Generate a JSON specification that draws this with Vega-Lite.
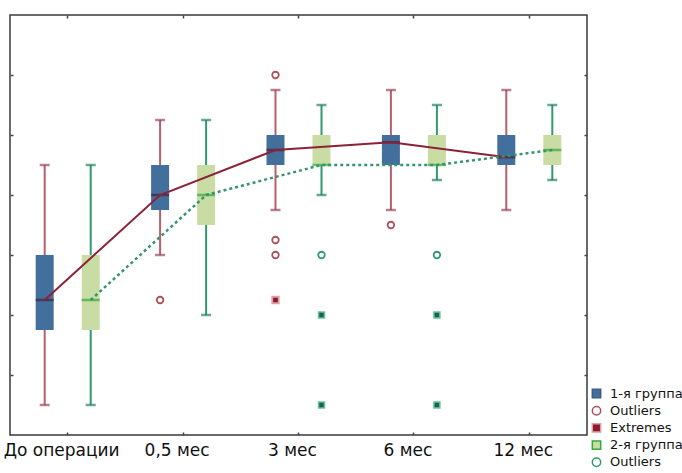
{
  "$schema": "https://vega.github.io/schema/vega-lite/v6.json",
  "description": "Box plots by group over time",
  "autosize": {"type": "none"},
  "padding": {"left": 10, "top": 15, "right": 95, "bottom": 38},
  "width": 577,
  "height": 420,
  "background": "white",
  "config": {
    "view": {"stroke": "#3a3a3a", "strokeWidth": 1.5},
    "font": "DejaVu Sans",
    "axis": {"domain": false, "grid": false, "title": null, "tickColor": "#444", "tickSize": -3, "tickWidth": 1.5}
  },
  "datasets": {
    "boxes": [
      {"time": "До операции", "group": "1-я группа", "lo": 0.5, "q1": 1.75, "med": 2.25, "q3": 3.0, "hi": 4.5},
      {"time": "До операции", "group": "2-я группа", "lo": 0.5, "q1": 1.75, "med": 2.25, "q3": 3.0, "hi": 4.5},
      {"time": "0,5 мес", "group": "1-я группа", "lo": 3.0, "q1": 3.75, "med": 4.0, "q3": 4.5, "hi": 5.25},
      {"time": "0,5 мес", "group": "2-я группа", "lo": 2.0, "q1": 3.5, "med": 4.0, "q3": 4.5, "hi": 5.25},
      {"time": "3 мес", "group": "1-я группа", "lo": 3.75, "q1": 4.5, "med": 4.75, "q3": 5.0, "hi": 5.75},
      {"time": "3 мес", "group": "2-я группа", "lo": 4.0, "q1": 4.5, "med": 4.5, "q3": 5.0, "hi": 5.5},
      {"time": "6 мес", "group": "1-я группа", "lo": 3.75, "q1": 4.5, "med": 4.88, "q3": 5.0, "hi": 5.75},
      {"time": "6 мес", "group": "2-я группа", "lo": 4.25, "q1": 4.5, "med": 4.5, "q3": 5.0, "hi": 5.5},
      {"time": "12 мес", "group": "1-я группа", "lo": 3.75, "q1": 4.5, "med": 4.63, "q3": 5.0, "hi": 5.75},
      {"time": "12 мес", "group": "2-я группа", "lo": 4.25, "q1": 4.5, "med": 4.75, "q3": 5.0, "hi": 5.5}
    ],
    "points": [
      {"time": "0,5 мес", "group": "1-я группа", "kind": "Outliers", "v": 2.25},
      {"time": "3 мес", "group": "1-я группа", "kind": "Outliers", "v": 6.0},
      {"time": "3 мес", "group": "1-я группа", "kind": "Outliers", "v": 3.25},
      {"time": "3 мес", "group": "1-я группа", "kind": "Outliers", "v": 3.0},
      {"time": "3 мес", "group": "1-я группа", "kind": "Extremes", "v": 2.25},
      {"time": "3 мес", "group": "2-я группа", "kind": "Outliers2", "v": 3.0},
      {"time": "3 мес", "group": "2-я группа", "kind": "Extremes2", "v": 2.0},
      {"time": "3 мес", "group": "2-я группа", "kind": "Extremes2", "v": 0.5},
      {"time": "6 мес", "group": "1-я группа", "kind": "Outliers", "v": 3.5},
      {"time": "6 мес", "group": "2-я группа", "kind": "Outliers2", "v": 3.0},
      {"time": "6 мес", "group": "2-я группа", "kind": "Extremes2", "v": 2.0},
      {"time": "6 мес", "group": "2-я группа", "kind": "Extremes2", "v": 0.5}
    ]
  },
  "encoding": {
    "x": {
      "field": "time", "type": "nominal",
      "sort": ["До операции", "0,5 мес", "3 мес", "6 мес", "12 мес"],
      "scale": {"paddingInner": 0, "paddingOuter": 0},
      "axis": null
    },
    "xOffset": {
      "field": "group", "type": "nominal",
      "sort": ["1-я группа", "2-я группа"],
      "scale": {"paddingOuter": 0.254, "paddingInner": 0}
    }
  },
  "resolve": {"axis": {"x": "independent", "y": "independent"}},
  "layer": [
    {
      "data": {"name": "boxes"},
      "mark": {"type": "rule", "strokeWidth": 2},
      "encoding": {
        "x": {
          "field": "time", "type": "nominal",
          "sort": ["До операции", "0,5 мес", "3 мес", "6 мес", "12 мес"],
          "scale": {"paddingInner": 0, "paddingOuter": 0},
          "axis": {"orient": "bottom", "labelFontSize": 17, "labelColor": "#111", "labelPadding": 10, "labelOffset": -6, "labelAngle": 0}
        },
        "y": {
          "field": "lo", "type": "quantitative",
          "scale": {"domain": [0, 7], "nice": false, "zero": false},
          "axis": {"orient": "left", "values": [1, 2, 3, 4, 5, 6], "labels": false}
        },
        "y2": {"field": "hi"},
        "color": {"condition": {"test": "datum.group == '1-я группа'", "value": "#b5606c"}, "value": "#2f9a70"}
      }
    },
    {
      "data": {"name": "boxes"},
      "transform": [{"fold": ["lo", "hi"], "as": ["end", "value"]}],
      "mark": {"type": "tick", "orient": "horizontal", "size": 10, "thickness": 2.5},
      "encoding": {
        "x": {
          "field": "time", "type": "nominal",
          "sort": ["До операции", "0,5 мес", "3 мес", "6 мес", "12 мес"],
          "scale": {"paddingInner": 0, "paddingOuter": 0},
          "axis": {"orient": "top", "labels": false}
        },
        "y": {
          "field": "value", "type": "quantitative",
          "axis": {"orient": "right", "values": [1, 2, 3, 4, 5, 6], "labels": false}
        },
        "color": {"condition": {"test": "datum.group == '1-я группа'", "value": "#9e4858"}, "value": "#24855e"}
      }
    },
    {
      "data": {"name": "boxes"},
      "mark": {"type": "bar", "width": 18},
      "encoding": {
        "y": {"field": "q1", "type": "quantitative", "axis": null},
        "y2": {"field": "q3"},
        "color": {"condition": {"test": "datum.group == '1-я группа'", "value": "#436f9c"}, "value": "#c8dca3"}
      }
    },
    {
      "data": {"name": "boxes"},
      "mark": {"type": "tick", "orient": "horizontal", "size": 18, "thickness": 2.5},
      "encoding": {
        "y": {"field": "med", "type": "quantitative", "axis": null},
        "color": {"condition": {"test": "datum.group == '1-я группа'", "value": "#4a2038"}, "value": "#38a83c"}
      }
    },
    {
      "data": {"name": "boxes"},
      "transform": [{"filter": "datum.group == '1-я группа'"}],
      "mark": {"type": "line", "color": "#8c2238", "strokeWidth": 2},
      "encoding": {
        "y": {"field": "med", "type": "quantitative", "axis": null}
      }
    },
    {
      "data": {"name": "boxes"},
      "transform": [{"filter": "datum.group == '2-я группа'"}],
      "mark": {"type": "line", "color": "#33966c", "strokeWidth": 2.5, "strokeDash": [3, 3]},
      "encoding": {
        "y": {"field": "med", "type": "quantitative", "axis": null}
      }
    },
    {
      "data": {"name": "points"},
      "transform": [{"filter": "datum.kind != 'Extremes2'"}],
      "mark": {"type": "point", "size": 42, "strokeWidth": 1.8, "opacity": 1},
      "encoding": {
        "y": {"field": "v", "type": "quantitative", "axis": null},
        "shape": {
          "field": "kind", "type": "nominal",
          "scale": {
            "domain": ["1-я группа", "Outliers", "Extremes", "2-я группа", "Outliers2"],
            "range": ["square", "circle", "square", "square", "circle"]
          },
          "legend": {
            "title": null, "orient": "none", "legendX": 580, "legendY": 372,
            "padding": 0, "rowPadding": 2.2, "labelFontSize": 13, "labelColor": "#111",
            "labelOffset": 7, "symbolSize": 70, "symbolStrokeWidth": 1.5,
            "labelExpr": "datum.label == 'Outliers2' ? 'Outliers' : datum.label"
          }
        },
        "fill": {
          "field": "kind", "type": "nominal",
          "scale": {
            "domain": ["1-я группа", "Outliers", "Extremes", "2-я группа", "Outliers2"],
            "range": ["#436f9c", "#ffffff", "#8a1a2c", "#c8dca3", "#ffffff"]
          }
        },
        "stroke": {
          "field": "kind", "type": "nominal",
          "scale": {
            "domain": ["1-я группа", "Outliers", "Extremes", "2-я группа", "Outliers2"],
            "range": ["#3a5f88", "#a8505c", "#e0a0aa", "#38a83c", "#2f9a70"]
          }
        }
      }
    },
    {
      "data": {"name": "points"},
      "transform": [{"filter": "datum.kind == 'Extremes2'"}],
      "mark": {"type": "square", "size": 36, "fill": "#17654a", "stroke": "#6cc49c", "strokeWidth": 1.5, "opacity": 1},
      "encoding": {
        "y": {"field": "v", "type": "quantitative", "axis": null}
      }
    }
  ]
}
